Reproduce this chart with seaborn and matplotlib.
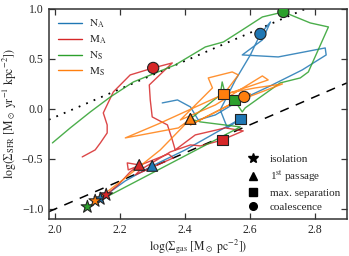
import numpy as np
import pandas as pd
import matplotlib
matplotlib.use('Agg')
import matplotlib.pyplot as plt
from matplotlib.lines import Line2D
import seaborn as sns

# trajectories in the (log Sigma_gas, log Sigma_SFR) plane
na_x = [2.139, 2.216, 2.299, 2.401, 2.494, 2.571, 2.531, 2.509, 2.556, 2.602, 2.633, 2.664, 2.639,
        2.577, 2.688, 2.833, 2.836, 2.762, 2.657, 2.571, 2.494, 2.441, 2.417, 2.377, 2.330]
na_y = [-0.90, -0.72, -0.57, -0.41, -0.24, -0.10, -0.19, -0.01, 0.29, 0.54, 0.75, 0.87, 0.69,
        0.54, 0.52, 0.61, 0.54, 0.39, 0.22, 0.09, -0.06, -0.11, 0.02, 0.09, 0.06]

ma_x = [2.157, 2.194, 2.231, 2.259, 2.222, 2.225, 2.349, 2.364, 2.247, 2.262, 2.355, 2.417, 2.448,
        2.494, 2.515, 2.580, 2.525, 2.432, 2.370, 2.361, 2.346, 2.299, 2.293, 2.290, 2.361, 2.302,
        2.231, 2.179, 2.148, 2.160, 2.160, 2.139, 2.123, 2.083]
ma_y = [-0.86, -0.76, -0.63, -0.56, -0.54, -0.61, -0.45, -0.49, -0.66, -0.61, -0.43, -0.36, -0.37,
        -0.33, -0.31, -0.22, -0.19, -0.26, -0.41, -0.31, -0.16, -0.08, 0.09, 0.24, 0.46, 0.41,
        0.34, 0.17, -0.04, -0.16, -0.24, -0.34, -0.41, -0.48]

ns_x = [2.099, 2.571, 2.448, 2.417, 2.509, 2.515, 2.525, 2.552, 2.577, 2.586, 2.694, 2.756, 2.781,
        2.843, 2.787, 2.704, 2.639, 2.577, 2.519, 2.463, 2.370, 2.241, 2.170, 2.108, 2.046, 1.991]
ns_y = [-0.98, -0.18, -0.13, -0.10, 0.14, 0.27, 0.14, 0.09, -0.03, 0.01, 0.26, 0.31, 0.37,
        0.82, 0.86, 0.97, 0.92, 0.79, 0.67, 0.62, 0.44, 0.27, 0.12, -0.03, -0.19, -0.34]

ms_x = [2.123, 2.216, 2.324, 2.417, 2.380, 2.216, 2.318, 2.494, 2.657, 2.639, 2.494, 2.386, 2.448,
        2.485, 2.472, 2.546, 2.565, 2.525, 2.519, 2.617, 2.701, 2.556, 2.417, 2.602, 2.583]
ms_y = [-0.92, -0.69, -0.41, -0.10, -0.19, -0.29, -0.15, 0.11, 0.29, 0.33, 0.04, -0.11, 0.09,
        0.21, 0.31, 0.37, 0.34, 0.17, 0.15, 0.21, 0.25, 0.07, -0.16, 0.15, 0.12]

# key stages: isolation, 1st passage, max. separation, coalescence
stages = ['isolation', '1st passage', 'max. separation', 'coalescence']
na_stage_x = [2.139, 2.299, 2.571, 2.633]
na_stage_y = [-0.90, -0.57, -0.10, 0.75]
ma_stage_x = [2.157, 2.259, 2.515, 2.302]
ma_stage_y = [-0.86, -0.56, -0.31, 0.41]
ns_stage_x = [2.099, 2.417, 2.552, 2.704]
ns_stage_y = [-0.98, -0.10, 0.09, 0.97]
ms_stage_x = [2.123, 2.417, 2.519, 2.583]
ms_stage_y = [-0.92, -0.10, 0.15, 0.12]

names = ['N_A', 'M_A', 'N_S', 'M_S']
colors = ['#1f77b4', '#d62728', '#2ca02c', '#ff7f0e']

# Kennicutt-Schmidt type relations (slope 1.4)
ks_slope = 1.4
ks_dashed = -3.8
ks_dotted = -2.88

sns.set_style('ticks')
plt.rcParams['font.family'] = ['Liberation Serif', 'DejaVu Serif']
plt.rcParams['mathtext.fontset'] = 'stix'
plt.rcParams['xtick.direction'] = 'in'
plt.rcParams['ytick.direction'] = 'in'

traj = pd.concat([
    pd.DataFrame({'x': na_x, 'y': na_y, 'run': 'N_A'}),
    pd.DataFrame({'x': ma_x, 'y': ma_y, 'run': 'M_A'}),
    pd.DataFrame({'x': ns_x, 'y': ns_y, 'run': 'N_S'}),
    pd.DataFrame({'x': ms_x, 'y': ms_y, 'run': 'M_S'}),
])
pts = pd.concat([
    pd.DataFrame({'x': na_stage_x, 'y': na_stage_y, 'run': 'N_A', 'stage': stages}),
    pd.DataFrame({'x': ma_stage_x, 'y': ma_stage_y, 'run': 'M_A', 'stage': stages}),
    pd.DataFrame({'x': ns_stage_x, 'y': ns_stage_y, 'run': 'N_S', 'stage': stages}),
    pd.DataFrame({'x': ms_stage_x, 'y': ms_stage_y, 'run': 'M_S', 'stage': stages}),
])

fig = plt.figure(figsize=(3.49, 2.56), dpi=100)
ax = fig.add_axes([0.14, 0.145, 0.854, 0.82])

xx = np.array([1.98, 2.9])
ax.plot(xx, ks_slope * xx + ks_dashed, color='k', lw=1.1, dashes=(6, 5), zorder=1)
ax.plot(xx, ks_slope * xx + ks_dotted, color='k', lw=1.3, dashes=(1, 3.5), zorder=1)

palette = dict(zip(names, colors))
sns.lineplot(data=traj, x='x', y='y', hue='run', palette=palette, sort=False,
             estimator=None, lw=1.0, alpha=0.85, legend=False, ax=ax, zorder=2)

marker_map = {'isolation': '*', '1st passage': '^', 'max. separation': 's', 'coalescence': 'o'}
size_map = {'isolation': 90, '1st passage': 60, 'max. separation': 60, 'coalescence': 65}
for stage in stages:
    sub = pts[pts['stage'] == stage]
    sns.scatterplot(data=sub, x='x', y='y', hue='run', palette=palette, marker=marker_map[stage],
                    s=size_map[stage], edgecolor='#222222', linewidth=0.8, legend=False,
                    ax=ax, zorder=3)

ax.set_xlim(1.98, 2.9)
ax.set_ylim(-1.1, 1.0)
ax.set_xticks([2.0, 2.2, 2.4, 2.6, 2.8])
ax.set_yticks([-1.0, -0.5, 0.0, 0.5, 1.0])
ax.tick_params(top=True, right=True, labelsize=8.5, length=4, width=0.9, color='#333333', pad=4)
for sp in ax.spines.values():
    sp.set_color('#333333')
    sp.set_linewidth(1.1)

ax.set_xlabel(r'$\log(\Sigma_{\rm gas}\ [\mathrm{M_\odot\ pc^{-2}}])$', fontsize=8.5)
ax.set_ylabel(r'$\log(\Sigma_{\rm SFR}\ [\mathrm{M_\odot\ yr^{-1}\ kpc^{-2}}])$', fontsize=8.5)
ax.yaxis.set_label_coords(-0.1, 0.5)
ax.xaxis.set_label_coords(0.5, -0.09)

line_handles = [Line2D([], [], color=c, lw=1.0) for c in colors]
line_labels = [r'$\mathrm{N_A}$', r'$\mathrm{M_A}$', r'$\mathrm{N_S}$', r'$\mathrm{M_S}$']
leg1 = ax.legend(line_handles, line_labels, loc='upper left', frameon=False, fontsize=8,
                 handlelength=2.2, labelspacing=0.3, borderaxespad=0.4, handletextpad=0.6)
ax.add_artist(leg1)

mk_handles = [Line2D([], [], ls='', marker=marker_map[s], color='k',
                     markersize=7.5 if s == 'isolation' else 5.5) for s in stages]
mk_labels = ['isolation', r'1$^{\rm st}$ passage', 'max. separation', 'coalescence']
ax.legend(mk_handles, mk_labels, loc='lower right', frameon=False, fontsize=8,
          handlelength=1.0, labelspacing=0.4, borderaxespad=0.2, handletextpad=1.0)

fig.savefig('out.png', dpi=100)
